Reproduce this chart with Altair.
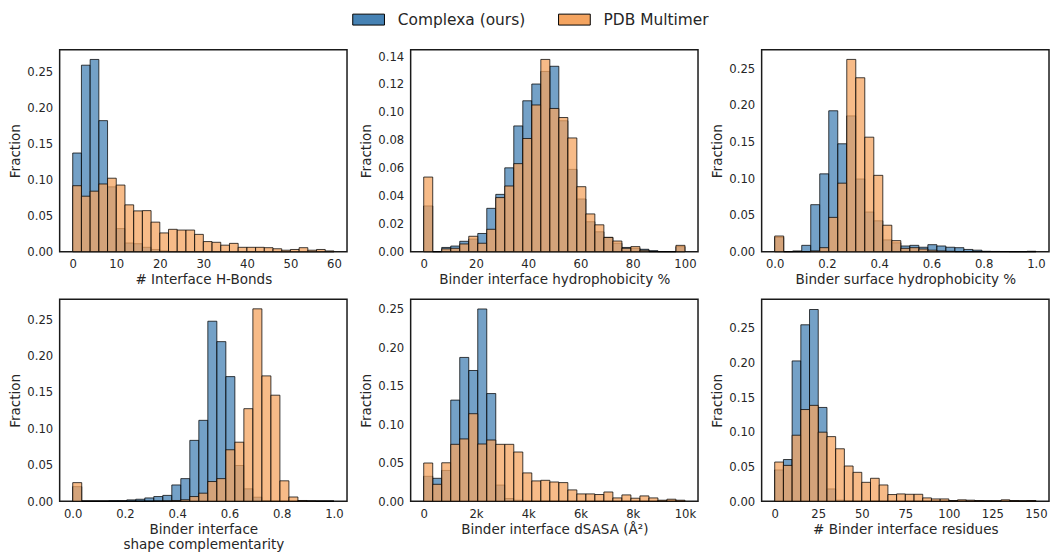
import altair as alt
import numpy as np
import pandas as pd

SERIES = ["Complexa (ours)", "PDB Multimer"]
COLORS = ["#4682B4", "#F4A460"]

# ---- Panel 1: # Interface H-Bonds (30 bins, 0..60)
hb_range = (0, 60, 30)
hb_complexa = [0.137, 0.259, 0.267, 0.182, 0.090, 0.032, 0.012, 0.011, 0.006, 0.003,
               0.001, 0, 0, 0, 0, 0, 0, 0, 0, 0, 0, 0, 0, 0, 0, 0, 0, 0, 0, 0]
hb_pdb = [0.0916, 0.077, 0.084, 0.094, 0.102, 0.0925, 0.065, 0.0566, 0.057, 0.041,
          0.026, 0.031, 0.030, 0.030, 0.024, 0.014, 0.013, 0.009, 0.0115, 0.006,
          0.006, 0.006, 0.0055, 0.004, 0.002, 0.003, 0.0055, 0.002, 0.003, 0.001]

# ---- Panel 2: Binder interface hydrophobicity % (29 bins, 0..100)
ih_range = (0, 100, 29)
ih_complexa = [0.0327, 0, 0.003, 0.004, 0.0074, 0.009, 0.013, 0.031, 0.041, 0.060,
               0.090, 0.108, 0.120, 0.129, 0.1327, 0.0937, 0.0589, 0.0377, 0.0214, 0.0142,
               0.0102, 0.006, 0.003, 0.0024, 0.0017, 0.0007, 0, 0, 0.0036]
ih_pdb = [0.0534, 0, 0.002, 0.0024, 0.0055, 0.011, 0.006, 0.016, 0.0387, 0.047,
          0.063, 0.081, 0.105, 0.1376, 0.1025, 0.096, 0.0814, 0.0465, 0.027, 0.0192,
          0.0102, 0.0076, 0.0024, 0.0036, 0.001, 0, 0, 0, 0.0045]

# ---- Panel 3: Binder surface hydrophobicity % (29 bins, 0..1)
sh_range = (0, 1, 29)
sh_complexa = [0.0195, 0, 0.001, 0.0086, 0.064, 0.106, 0.192, 0.147, 0.185, 0.099,
               0.054, 0.042, 0.016, 0.012, 0.0077, 0.0086, 0.006, 0.0095, 0.0077, 0.006,
               0.0054, 0.003, 0.002, 0.0005, 0.0003, 0.0002, 0, 0, 0.0005]
sh_pdb = [0.0213, 0, 0, 0, 0.001, 0.0054, 0.0467, 0.0933, 0.262, 0.237,
          0.156, 0.104, 0.036, 0.015, 0.0045, 0.0054, 0.0036, 0.002, 0.001, 0.0005,
          0, 0, 0, 0, 0, 0, 0, 0, 0]

# ---- Panel 4: Binder interface shape complementarity (29 bins, 0..1)
sc_range = (0, 1, 29)
sc_complexa = [0.020, 0, 0, 0, 0.0005, 0.0005, 0.0018, 0.0027, 0.0045, 0.0064,
               0.008, 0.0223, 0.031, 0.0835, 0.111, 0.247, 0.219, 0.171, 0.049, 0.017,
               0.0055, 0.001, 0, 0, 0, 0, 0, 0, 0]
sc_pdb = [0.0255, 0, 0, 0, 0, 0, 0, 0, 0, 0.0003,
          0.0005, 0.001, 0.002, 0.0064, 0.011, 0.027, 0.031, 0.0706, 0.081, 0.127,
          0.264, 0.172, 0.1455, 0.028, 0.0058, 0.001, 0.0003, 0, 0]

# ---- Panel 5: Binder interface dSASA (29 bins, 0..10000)
ds_range = (0, 10000, 29)
ds_complexa = [0.0324, 0.0298, 0.040, 0.1315, 0.187, 0.170, 0.250, 0.140, 0.021, 0.0035,
               0.0013, 0, 0, 0, 0, 0, 0, 0, 0, 0, 0, 0, 0, 0, 0, 0, 0, 0.001, 0]
ds_pdb = [0.0497, 0.022, 0.050, 0.074, 0.081, 0.1138, 0.0744, 0.0796, 0.074, 0.074,
          0.064, 0.0368, 0.0264, 0.0272, 0.025, 0.0242, 0.0147, 0.0095, 0.0095, 0.0087,
          0.012, 0.0043, 0.0082, 0.0039, 0.0069, 0.0043, 0.0013, 0.0026, 0.0013]

# ---- Panel 6: # Binder interface residues (30 bins, 0..150)
ir_range = (0, 150, 30)
ir_complexa = [0.045, 0.060, 0.202, 0.254, 0.276, 0.135, 0.0177, 0.0015, 0.0005, 0,
               0, 0, 0, 0, 0, 0, 0, 0, 0, 0, 0, 0.001, 0, 0, 0, 0, 0.001, 0, 0, 0]
ir_pdb = [0.0564, 0.0516, 0.095, 0.132, 0.138, 0.0994, 0.093, 0.0755, 0.0507, 0.0416,
          0.0272, 0.033, 0.0234, 0.0096, 0.0105, 0.010, 0.010, 0.0048, 0.0033, 0.0033,
          0.001, 0.002, 0.0015, 0.001, 0.0005, 0.0005, 0.002, 0.001, 0.0005, 0.001]

PW, PH = 289, 203
FONT = "DejaVu Sans"
TXT = "#262626"

legend = alt.Legend(
    title=None, orient="none", legendX=292.5, legendY=-38.5, direction="horizontal",
    symbolType="M-1,-1L4.8,-1L4.8,1L-1,1Z", symbolSize=121,
    symbolStrokeColor="black", symbolStrokeWidth=1, symbolOpacity=1,
    labelFont=FONT, labelFontSize=15.5, labelColor=TXT, labelOffset=32,
    columnPadding=31,
)


def panel(rng, comp, pdb, xtitle, xdomain, xvalues, ymax, yvalues,
          xfmt=None, xlabelexpr=None):
    lo, hi, n = rng
    edges = np.linspace(lo, hi, n + 1)
    rows = []
    for s, vals in ((SERIES[0], comp), (SERIES[1], pdb)):
        for i, v in enumerate(vals):
            rows.append({"series": s, "x0": edges[i], "x1": edges[i + 1],
                         "frac": v, "base": 0.0})
    df = pd.DataFrame(rows)
    xa = dict(values=xvalues, labelFlush=False)
    if xfmt:
        xa["format"] = xfmt
    if xlabelexpr:
        xa["labelExpr"] = xlabelexpr
    return alt.Chart(df).mark_bar(
        fillOpacity=0.75, strokeOpacity=0.75, stroke="black", strokeWidth=1
    ).encode(
        x=alt.X("x0:Q", title=xtitle,
                scale=alt.Scale(domain=xdomain, nice=False, zero=False),
                axis=alt.Axis(**xa)),
        x2="x1:Q",
        y=alt.Y("frac:Q", title="Fraction", stack=None,
                scale=alt.Scale(domain=[0, ymax], nice=False),
                axis=alt.Axis(values=yvalues, format=".2f")),
        y2="base:Q",
        color=alt.Color("series:N", scale=alt.Scale(domain=SERIES, range=COLORS),
                        legend=legend),
    ).properties(width=PW, height=PH)


y25 = [0, 0.05, 0.10, 0.15, 0.20, 0.25]
p1 = panel(hb_range, hb_complexa, hb_pdb, "# Interface H-Bonds", [-3, 63],
           [0, 10, 20, 30, 40, 50, 60], 0.2804, y25, xfmt="d")
p2 = panel(ih_range, ih_complexa, ih_pdb, "Binder interface hydrophobicity %", [-5, 105],
           [0, 20, 40, 60, 80, 100], 0.1445, [0, 0.02, 0.04, 0.06, 0.08, 0.10, 0.12, 0.14],
           xfmt="d")
p3 = panel(sh_range, sh_complexa, sh_pdb, "Binder surface hydrophobicity %", [-0.05, 1.05],
           [0, 0.2, 0.4, 0.6, 0.8, 1.0], 0.2751, y25, xfmt=".1f")
p4 = panel(sc_range, sc_complexa, sc_pdb, ["Binder interface", "shape complementarity"],
           [-0.05, 1.05], [0, 0.2, 0.4, 0.6, 0.8, 1.0], 0.277, y25, xfmt=".1f")
p5 = panel(ds_range, ds_complexa, ds_pdb, "Binder interface dSASA (Å²)", [-500, 10500],
           [0, 2000, 4000, 6000, 8000, 10000], 0.2625, y25,
           xlabelexpr="datum.value == 0 ? '0' : (datum.value / 1000) + 'k'")
p6 = panel(ir_range, ir_complexa, ir_pdb, "# Binder interface residues", [-7.5, 157.5],
           [0, 25, 50, 75, 100, 125, 150], 0.2906, y25, xfmt="d")

chart = alt.concat(p1, p2, p3, p4, p5, p6, columns=3, spacing={"row": 11, "column": 11}).properties(
    padding={"left": 8, "top": 9.5, "right": 0, "bottom": 0},
    background="white",
).configure_view(
    stroke="#1a1a1a", strokeWidth=1.5
).configure_axis(
    domain=False, ticks=False, tickSize=0, grid=False,
    labelFont=FONT, labelFontSize=11.7, labelColor=TXT,
    titleFont=FONT, titleFontSize=13.6, titleFontWeight="normal", titleColor=TXT,
).configure_axisY(
    minExtent=33, maxExtent=33, labelPadding=7, titlePadding=4
).configure_axisX(
    minExtent=19, maxExtent=19, labelPadding=7, titlePadding=2.5, titleLineHeight=15
)

chart.save("out.html", embed_options={"renderer": "svg", "actions": False})
